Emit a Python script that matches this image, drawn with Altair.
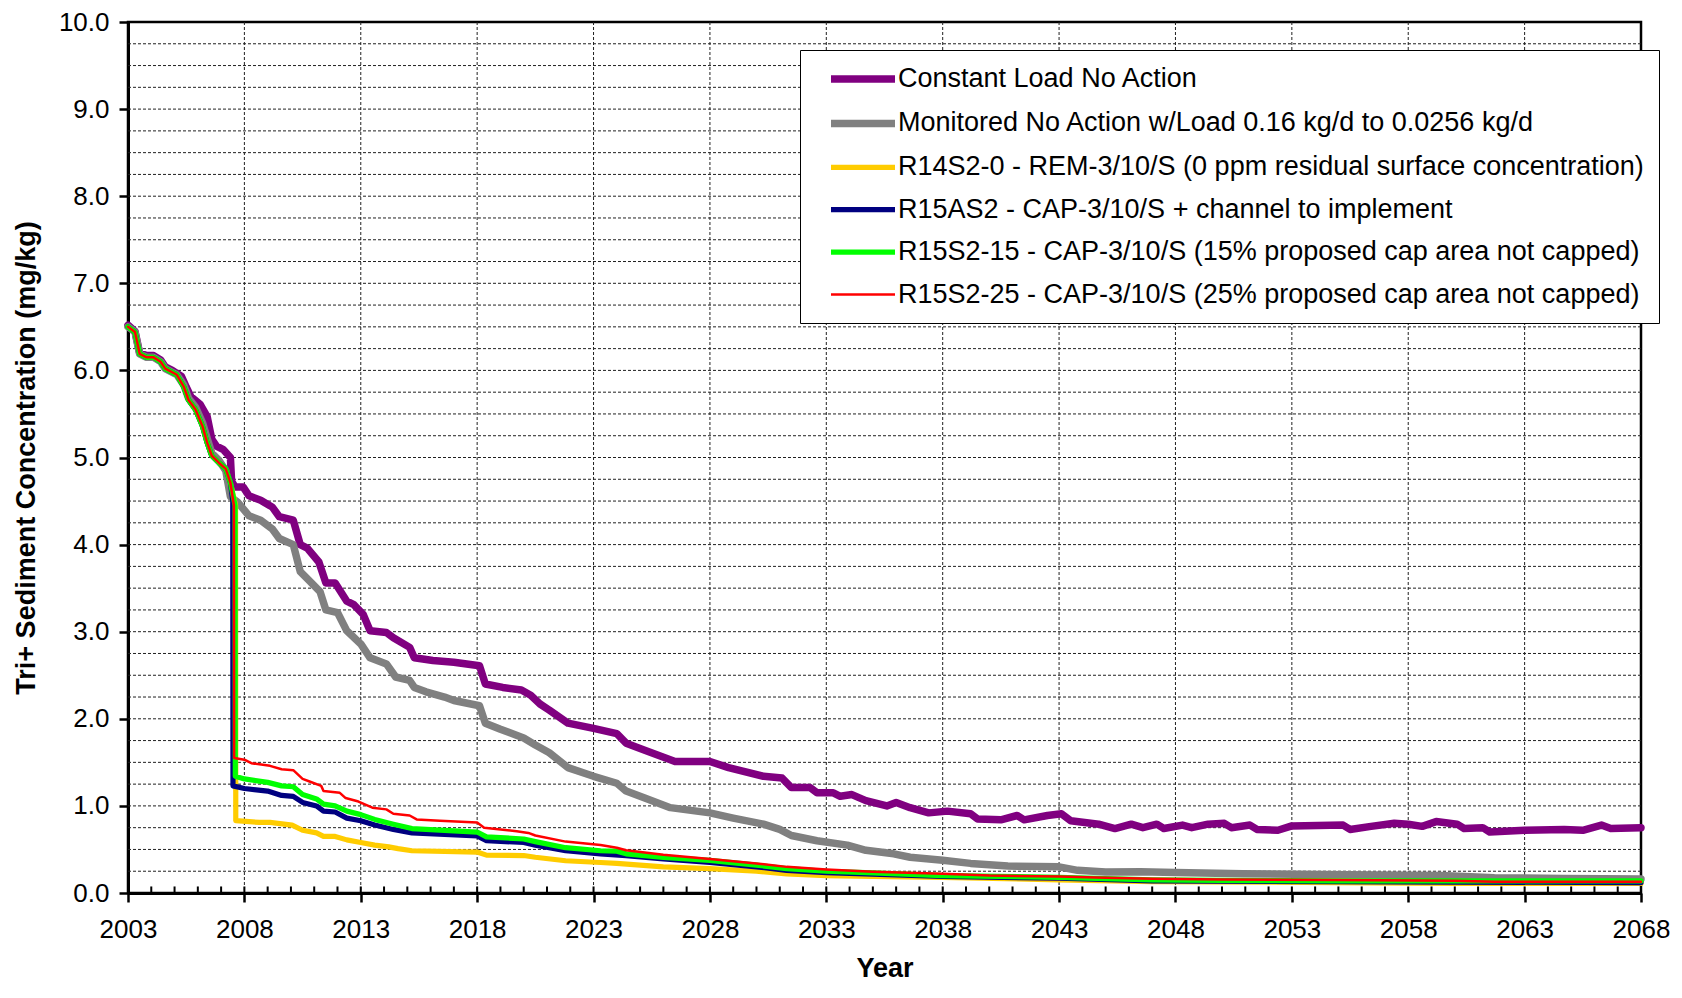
import altair as alt
import pandas as pd

FONT = "Liberation Sans, Arial, Helvetica, sans-serif"

names = [
    "Constant Load No Action",
    "Monitored No Action w/Load 0.16 kg/d to 0.0256 kg/d",
    "R14S2-0 - REM-3/10/S (0 ppm residual surface concentration)",
    "R15AS2 - CAP-3/10/S + channel to implement",
    "R15S2-15 - CAP-3/10/S (15% proposed cap area not capped)",
    "R15S2-25 - CAP-3/10/S (25% proposed cap area not capped)",
]
colors = ["#800080", "#808080", "#FFCC00", "#000080", "#00FF00", "#FF0000"]
widths = [7.5, 7.5, 5.2, 5.2, 5.2, 2.5]

# shared early decline (before remediation)
early_years = [2003.0, 2003.3, 2003.5, 2003.8, 2004.1, 2004.4, 2004.6, 2005.1, 2005.4,
               2005.6, 2005.9, 2006.2, 2006.4, 2006.6, 2006.9, 2007.2, 2007.4]
early_vals = [6.50, 6.44, 6.19, 6.15, 6.15, 6.10, 6.02, 5.95, 5.81,
              5.66, 5.55, 5.36, 5.17, 5.02, 4.94, 4.87, 4.71]

purple_years = [2003.0, 2003.3, 2003.5, 2003.8, 2004.1, 2004.4, 2004.6, 2004.9, 2005.3, 2005.5,
                2005.7, 2006.1, 2006.4, 2006.6, 2006.8, 2007.1, 2007.4, 2007.45, 2007.6, 2007.95,
                2008.2, 2008.7, 2009.2, 2009.5, 2010.1, 2010.4, 2010.7, 2011.2, 2011.5, 2011.9,
                2012.4, 2012.7, 2013.1, 2013.4, 2014.1, 2014.4, 2015.1, 2015.3, 2016.1, 2017.0,
                2018.1, 2018.35, 2019.1, 2019.9, 2020.3, 2020.7, 2021.1, 2021.9, 2023.0, 2024.0,
                2024.4, 2025.2, 2026.5, 2028.0, 2028.8, 2030.3, 2031.1, 2031.5, 2032.3, 2032.6,
                2033.3, 2033.6, 2034.1, 2034.7, 2035.6, 2036.0, 2036.6, 2037.4, 2038.2, 2039.2,
                2039.5, 2040.5, 2041.2, 2041.5, 2042.5, 2043.1, 2043.5, 2044.1, 2044.7, 2045.4,
                2046.1, 2046.6, 2047.2, 2047.5, 2048.3, 2048.7, 2049.4, 2050.1, 2050.4, 2051.2,
                2051.5, 2052.4, 2053.0, 2055.2, 2055.5, 2056.4, 2057.4, 2058.0, 2058.6, 2059.2,
                2060.1, 2060.4, 2061.2, 2061.5, 2063.0, 2064.7, 2065.5, 2066.3, 2066.7, 2068.0]
purple_vals = [6.52, 6.45, 6.20, 6.17, 6.17, 6.12, 6.04, 6.00, 5.93, 5.81,
               5.70, 5.61, 5.47, 5.21, 5.13, 5.09, 5.00, 4.73, 4.66, 4.66,
               4.56, 4.51, 4.43, 4.32, 4.28, 4.00, 3.96, 3.80, 3.56, 3.56,
               3.35, 3.31, 3.20, 3.01, 2.99, 2.93, 2.82, 2.70, 2.67, 2.65,
               2.61, 2.40, 2.36, 2.33, 2.27, 2.17, 2.10, 1.95, 1.89, 1.83,
               1.72, 1.64, 1.51, 1.51, 1.44, 1.34, 1.32, 1.21, 1.21, 1.15,
               1.15, 1.11, 1.13, 1.06, 1.00, 1.04, 0.98, 0.92, 0.94, 0.91,
               0.85, 0.84, 0.89, 0.84, 0.89, 0.91, 0.83, 0.81, 0.79, 0.74,
               0.79, 0.75, 0.79, 0.74, 0.78, 0.75, 0.79, 0.80, 0.75, 0.78,
               0.73, 0.72, 0.77, 0.78, 0.73, 0.765, 0.80, 0.79, 0.765, 0.82,
               0.79, 0.74, 0.75, 0.70, 0.72, 0.73, 0.72, 0.78, 0.74, 0.75]

gray_years = [2003.0, 2003.3, 2003.5, 2003.8, 2004.1, 2004.4, 2004.6, 2005.1, 2005.4, 2005.6,
              2005.9, 2006.2, 2006.4, 2006.6, 2006.9, 2007.2, 2007.4, 2007.7, 2008.2, 2008.7,
              2009.2, 2009.5, 2010.1, 2010.4, 2010.7, 2011.25, 2011.5, 2012.0, 2012.4, 2013.0,
              2013.4, 2014.1, 2014.5, 2015.1, 2015.3, 2015.8, 2016.6, 2017.0, 2018.1, 2018.35,
              2019.0, 2020.0, 2020.5, 2021.1, 2021.9, 2023.0, 2024.0, 2024.4, 2025.2, 2026.3,
              2028.0, 2029.0, 2030.3, 2031.0, 2031.5, 2032.6, 2033.9, 2034.7, 2035.9, 2036.6,
              2038.0, 2039.2, 2040.8, 2043.0, 2043.8, 2045.0, 2046.5, 2048.0, 2050.9, 2055.5,
              2059.4, 2061.7, 2064.7, 2068.0]
gray_vals = [6.50, 6.44, 6.19, 6.15, 6.15, 6.10, 6.02, 5.95, 5.83, 5.68,
             5.58, 5.40, 5.22, 5.05, 4.97, 4.85, 4.55, 4.49, 4.33, 4.28,
             4.18, 4.07, 4.00, 3.69, 3.61, 3.46, 3.25, 3.22, 3.01, 2.86,
             2.70, 2.63, 2.48, 2.44, 2.36, 2.31, 2.25, 2.21, 2.15, 1.95,
             1.88, 1.78, 1.70, 1.61, 1.44, 1.34, 1.26, 1.17, 1.09, 0.98,
             0.92, 0.86, 0.79, 0.73, 0.66, 0.60, 0.55, 0.49, 0.45, 0.41,
             0.375, 0.34, 0.31, 0.30, 0.26, 0.24, 0.245, 0.235, 0.22, 0.21,
             0.20, 0.175, 0.167, 0.16]

yellow_years = [2007.62, 2007.63, 2008.65, 2009.1, 2010.05, 2010.5, 2011.1, 2011.4, 2011.9, 2012.4,
                2013.0, 2013.6, 2014.2, 2014.6, 2015.2, 2018.0, 2018.4, 2020.0, 2020.5, 2021.8,
                2023.3, 2024.0, 2026.0, 2028.0, 2030.0, 2031.3, 2033.0, 2035.0, 2038.0, 2043.0,
                2047.0, 2055.0, 2060.0, 2068.0]
yellow_vals = [4.45, 0.83, 0.81, 0.81, 0.78, 0.72, 0.69, 0.65, 0.65, 0.61,
               0.58, 0.55, 0.53, 0.51, 0.485, 0.47, 0.435, 0.43, 0.41, 0.37,
               0.35, 0.34, 0.30, 0.28, 0.25, 0.22, 0.20, 0.19, 0.18, 0.15,
               0.13, 0.12, 0.11, 0.11]

navy_years = [2007.50, 2007.51, 2008.0, 2009.0, 2009.6, 2010.1, 2010.5, 2011.1, 2011.4, 2011.9,
              2012.4, 2013.0, 2013.6, 2014.4, 2015.2, 2018.0, 2018.4, 2020.0, 2020.5, 2021.8,
              2023.3, 2024.4, 2026.0, 2028.0, 2030.0, 2031.3, 2033.0, 2035.0, 2038.0, 2043.0,
              2047.0, 2055.0, 2060.0, 2068.0]
navy_vals = [4.50, 1.23, 1.20, 1.17, 1.12, 1.11, 1.04, 1.00, 0.94, 0.93,
             0.86, 0.83, 0.78, 0.73, 0.69, 0.655, 0.60, 0.58, 0.55, 0.485,
             0.45, 0.43, 0.39, 0.35, 0.30, 0.26, 0.235, 0.215, 0.19, 0.17,
             0.14, 0.13, 0.125, 0.12]

green_years = [2007.60, 2007.61, 2008.0, 2009.0, 2009.6, 2010.1, 2010.5, 2011.1, 2011.4, 2011.9,
               2012.4, 2013.0, 2013.6, 2014.4, 2015.2, 2018.0, 2018.4, 2020.0, 2020.5, 2021.8,
               2023.3, 2024.0, 2024.4, 2026.0, 2028.0, 2030.0, 2031.3, 2033.0, 2035.0, 2038.0,
               2043.0, 2047.0, 2050.0, 2055.0, 2060.0, 2068.0]
green_vals = [4.45, 1.34, 1.31, 1.27, 1.23, 1.22, 1.13, 1.08, 1.02, 1.00,
              0.94, 0.90, 0.845, 0.79, 0.74, 0.70, 0.645, 0.62, 0.59, 0.52,
              0.485, 0.48, 0.45, 0.41, 0.375, 0.32, 0.28, 0.25, 0.23, 0.20,
              0.18, 0.15, 0.145, 0.14, 0.14, 0.14]

red_years = [2007.55, 2007.56, 2008.0, 2008.3, 2009.1, 2009.6, 2010.1, 2010.5, 2010.8, 2011.3,
             2011.4, 2012.1, 2012.35, 2012.9, 2013.5, 2014.1, 2014.4, 2015.1, 2015.4, 2016.4,
             2018.0, 2018.3, 2019.7, 2020.2, 2020.5, 2021.8, 2023.3, 2024.0, 2024.4, 2026.0,
             2028.0, 2030.0, 2031.3, 2033.0, 2035.0, 2038.0, 2040.0, 2043.0, 2045.0, 2047.0,
             2050.0, 2055.0, 2060.0, 2061.7, 2068.0]
red_vals = [4.45, 1.55, 1.53, 1.49, 1.46, 1.42, 1.41, 1.31, 1.28, 1.23,
            1.17, 1.15, 1.09, 1.05, 0.98, 0.96, 0.91, 0.89, 0.845, 0.83,
            0.81, 0.75, 0.71, 0.69, 0.66, 0.59, 0.55, 0.52, 0.49, 0.44,
            0.39, 0.34, 0.30, 0.27, 0.245, 0.22, 0.20, 0.19, 0.175, 0.165,
            0.155, 0.15, 0.14, 0.13, 0.13]

x_major = [2003, 2008, 2013, 2018, 2023, 2028, 2033, 2038, 2043, 2048, 2053, 2058, 2063, 2068]
x_grid = [2008, 2013, 2018, 2023, 2028, 2033, 2038, 2043, 2048, 2053, 2058, 2063]
x_minor = list(range(2004, 2068))
y_major = [0, 1, 2, 3, 4, 5, 6, 7, 8, 9, 10]
y_grid = [i / 4 for i in range(1, 40)]

series_points = [
    (purple_years, purple_vals, False),
    (gray_years, gray_vals, False),
    (yellow_years, yellow_vals, True),
    (navy_years, navy_vals, True),
    (green_years, green_vals, True),
    (red_years, red_vals, True),
]

rows = []
for name, (yrs, vals, with_early) in zip(names, series_points):
    k = 0
    if with_early:
        for yv, vv in zip(early_years, early_vals):
            rows.append({"series": name, "year": yv, "value": vv, "k": k})
            k += 1
    for yv, vv in zip(yrs, vals):
        rows.append({"series": name, "year": yv, "value": vv, "k": k})
        k += 1
df = pd.DataFrame(rows)

xscale = alt.Scale(domain=[2003, 2068], nice=False, zero=False)
yscale = alt.Scale(domain=[0, 10], nice=False)

xaxis = alt.Axis(values=x_major, format="d", grid=False, tickSize=9, tickWidth=2.5,
                 tickColor="black", domainColor="black", domainWidth=3,
                 labelFontSize=26, labelFont=FONT, labelColor="black", labelPadding=14,
                 labelFlush=False, labelOverlap=False,
                 title="Year", titleFontSize=27, titleFont=FONT,
                 titleFontWeight="bold", titleColor="black", titlePadding=13)
yaxis = alt.Axis(values=y_major, format=".1f", grid=False, tickSize=9, tickWidth=2.5,
                 tickColor="black", domainColor="black", domainWidth=3,
                 labelFontSize=26, labelFont=FONT, labelColor="black", labelPadding=10,
                 title="Tri+ Sediment Concentration (mg/kg)", titleFontSize=27,
                 titleFont=FONT, titleFontWeight="bold", titleColor="black",
                 titlePadding=18)

legend = alt.Legend(orient="none", legendX=672, legendY=28, title=None,
                    symbolType="M-3.2,0H3.2", symbolSize=400, labelFontSize=27,
                    labelFont=FONT, labelColor="black", labelLimit=0,
                    strokeColor="black", fillColor="white", padding=15,
                    rowPadding=14.4, labelOffset=21, symbolOffset=34)

hgrid = alt.Chart(pd.DataFrame({"value": y_grid})).mark_rule(
    color="#202020", strokeDash=[3, 2], strokeWidth=1
).encode(
    y=alt.Y("value:Q", scale=yscale, axis=yaxis),
)

vgrid = alt.Chart(pd.DataFrame({"year": x_grid})).mark_rule(
    color="#202020", strokeDash=[3, 2], strokeWidth=1
).encode(
    x=alt.X("year:Q", scale=xscale, axis=xaxis),
)

minor = alt.Chart(pd.DataFrame({"year": x_minor, "value": [0.0] * len(x_minor),
                                "value2": [0.075] * len(x_minor)})).mark_rule(
    color="black", strokeWidth=2
).encode(
    x=alt.X("year:Q", scale=xscale, axis=xaxis),
    y=alt.Y("value:Q", scale=yscale, axis=yaxis),
    y2="value2:Q",
)

layers = [vgrid, hgrid, minor]
for name in names:
    layers.append(
        alt.Chart(df).transform_filter(alt.datum.series == name).mark_line(
            strokeJoin="round", strokeCap="round"
        ).encode(
            x=alt.X("year:Q", scale=xscale, axis=xaxis),
            y=alt.Y("value:Q", scale=yscale, axis=yaxis),
            order="k:Q",
            color=alt.Color("series:O", scale=alt.Scale(domain=names, range=colors),
                            legend=legend),
            strokeWidth=alt.StrokeWidth("series:O",
                                        scale=alt.Scale(type="ordinal", domain=names,
                                                        range=widths),
                                        legend=legend),
        )
    )

chart = alt.layer(*layers).properties(
    width=1513, height=871,
    padding={"left": 120, "top": 14, "right": 30, "bottom": 91},
    autosize=alt.AutoSizeParams(type="none"),
).configure(background="white").configure_view(stroke="black", strokeWidth=2.5)

chart.save("out.html", embed_options={"renderer": "svg", "actions": False})
